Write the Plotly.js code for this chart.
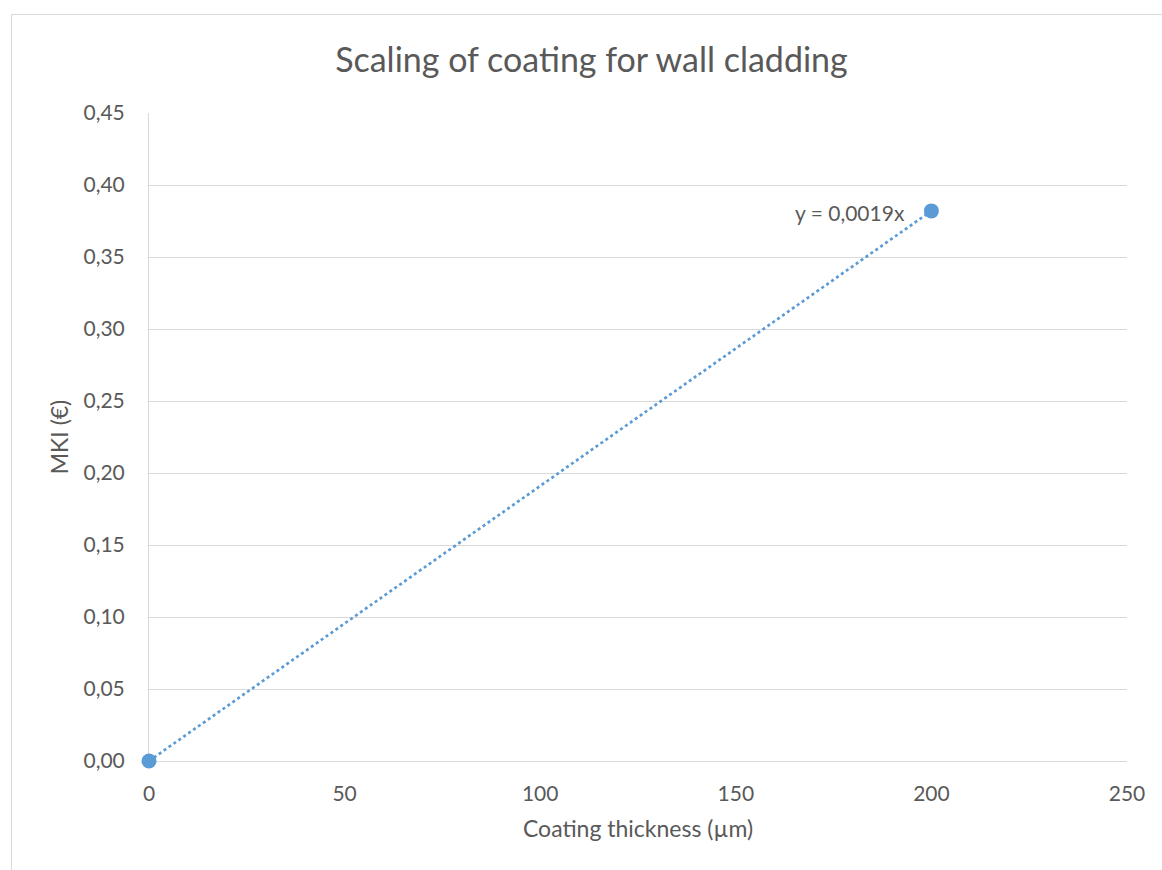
<!DOCTYPE html>
<html>
<head>
<meta charset="utf-8">
<script src="https://cdn.plot.ly/plotly-3.0.1.min.js"></script>
<style>
html,body{margin:0;padding:0;background:#fff;}
#wrap{position:relative;width:1162px;height:870px;}
#chart{width:1162px;height:870px;}
#frame{position:absolute;left:11px;top:14px;width:1160px;height:870px;border:1px solid #d9d9d9;pointer-events:none;}
</style>
</head>
<body>
<div id="wrap"><div id="chart"></div><div id="frame"></div></div>
<script>
const thickness = [0, 200];
const mki = [0, 0.382];
const trendLabel = "y = 0,0019x";
const yTicks = [0, 0.05, 0.10, 0.15, 0.20, 0.25, 0.30, 0.35, 0.40, 0.45];
const xTicks = [0, 50, 100, 150, 200, 250];

// linear fit through origin
let sxy = 0, sxx = 0;
for (let i = 0; i < thickness.length; i++) { sxy += thickness[i] * mki[i]; sxx += thickness[i] * thickness[i]; }
const slope = sxy / sxx;
const xMin = Math.min(...thickness), xMax = Math.max(...thickness);

const font = "Lato, 'Open Sans', sans-serif";
const blue = "#5b9bd5";
const grey = "#595959";

const traces = [
  {
    x: [xMin, xMax], y: [slope * xMin, slope * xMax],
    mode: "lines", type: "scatter",
    line: {color: blue, width: 2.7, dash: "dot"},
    hoverinfo: "skip", showlegend: false, cliponaxis: false
  },
  {
    x: thickness, y: mki, mode: "markers", type: "scatter",
    marker: {color: blue, size: 15},
    showlegend: false, cliponaxis: false
  }
];

const layout = {
  width: 1162, height: 870,
  margin: {l: 149, r: 35, t: 113, b: 109},
  paper_bgcolor: "#fff", plot_bgcolor: "#fff",
  separators: ", ",
  font: {family: font, color: grey, size: 21},
  title: {text: "Scaling of coating for wall cladding", font: {family: font, size: 34, color: grey}, x: 0.509, xanchor: "center", y: 0.931, yanchor: "middle"},
  xaxis: {
    range: [0, 250], tickvals: xTicks, ticktext: xTicks.map(String),
    showgrid: false, zeroline: false, showline: true, linecolor: "#d9d9d9", linewidth: 1,
    layer: "below traces",
    ticks: "outside", ticklen: 14, tickcolor: "rgba(0,0,0,0)", tickfont: {size: 21, color: grey},
    title: {text: "Coating thickness (µm)", font: {size: 23, color: grey}, standoff: 16}
  },
  yaxis: {
    range: [0, 0.45], tickvals: yTicks, tickformat: ".2f",
    showgrid: true, gridcolor: "#d9d9d9", gridwidth: 1, zeroline: false,
    showline: true, linecolor: "#d9d9d9", linewidth: 1,
    layer: "below traces",
    ticks: "outside", ticklen: 19, tickcolor: "rgba(0,0,0,0)", tickfont: {size: 21, color: grey},
    title: {text: "MKI (€)", font: {size: 23, color: grey}, standoff: 8}
  },
  annotations: [{
    x: xMax, y: mki[mki.length - 1], xref: "x", yref: "y",
    text: trendLabel, showarrow: false, xanchor: "right", yanchor: "middle",
    xshift: -24, yshift: -2, font: {size: 21, color: grey, family: font}
  }]
};

Plotly.newPlot("chart", traces, layout, {displayModeBar: false, staticPlot: true});
</script>
</body>
</html>
